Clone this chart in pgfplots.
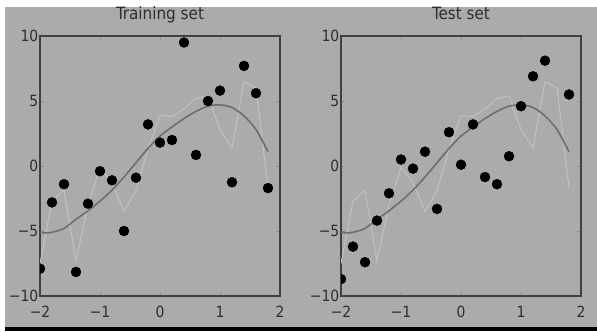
\documentclass[border=0pt]{standalone}
\usepackage{fontspec}
\setmainfont{DejaVu Sans Condensed}
\usepackage{pgfplots}
\pgfplotsset{compat=1.18}
\definecolor{bg}{HTML}{ABABAB}
\definecolor{frame}{HTML}{404040}
\definecolor{tickc}{HTML}{8C8C8C}
\definecolor{txt}{HTML}{2E2E2E}
\definecolor{fitc}{HTML}{6E6E6E}
\definecolor{overc}{HTML}{C2C2C2}
\pgfplotsset{myax/.style={
  scale only axis, width=240bp, height=260bp,
  xmin=-2, xmax=2, ymin=-10, ymax=10,
  clip marker paths=true,
  xtick={-2,-1,0,1,2}, xticklabels={−2,−1,0,1,2},
  ytick={-10,-5,0,5,10}, yticklabels={−10,−5,0,5,10},
  tick align=inside, major tick length=4bp,
  axis line style={draw=frame, line width=1.2bp},
  tick style={draw=tickc, line width=0.8bp},
  ticklabel style={font=\fontsize{15.5}{16}\selectfont, text=txt},
  xticklabel style={anchor=base, yshift=-21bp},
  yticklabel style={anchor=east, inner xsep=1.5bp},
  title style={font=\fontsize{17}{19}\selectfont, text=txt, at={(0.5,1)}, anchor=base, yshift=11bp},
}}
\pgfplotstableread{
x y
-2 -5.1
-1.9 -5.15
-1.8 -5.1
-1.6 -4.8
-1.4 -4.1
-1.2 -3.45
-1.0 -2.7
-0.8 -1.85
-0.6 -0.85
-0.4 0.25
-0.2 1.35
0 2.3
0.2 3.0
0.4 3.65
0.6 4.2
0.8 4.6
1.0 4.7
1.2 4.5
1.4 3.85
1.6 2.8
1.8 1.1
}\fit
\pgfplotstableread{
x y
-2 -7.5
-1.8 -2.7
-1.6 -1.85
-1.4 -7.3
-1.2 -3.0
-1.0 -0.1
-0.8 -1.3
-0.6 -3.5
-0.4 -1.9
-0.2 1.3
0 3.9
0.2 3.8
0.4 4.4
0.6 5.2
0.8 5.4
1.0 2.8
1.2 1.4
1.4 6.5
1.6 6.0
1.8 -1.7
}\over
\pgfplotstableread{
x y
-2 -7.9
-1.8 -2.8
-1.6 -1.4
-1.4 -8.15
-1.2 -2.9
-1.0 -0.4
-0.8 -1.1
-0.6 -5.0
-0.4 -0.9
-0.2 3.2
0 1.8
0.2 2.0
0.4 9.5
0.6 0.85
0.8 5.0
1.0 5.8
1.2 -1.25
1.4 7.7
1.6 5.6
1.8 -1.7
}\train
\pgfplotstableread{
x y
-2 -8.7
-1.8 -6.2
-1.6 -7.4
-1.4 -4.2
-1.2 -2.1
-1.0 0.5
-0.8 -0.2
-0.6 1.1
-0.4 -3.3
-0.2 2.6
0 0.1
0.2 3.2
0.4 -0.85
0.6 -1.4
0.8 0.75
1.0 4.6
1.2 6.9
1.4 8.1
1.8 5.5
}\test
\begin{document}
\begin{tikzpicture}[x=1bp,y=1bp]
\fill[white] (0,0) rectangle (597,331);
\fill[bg] (5,0) rectangle (597,324);
\fill[black] (5,0) rectangle (597,4);
\begin{axis}[myax, at={(40bp,35bp)}, anchor=south west, title={Training set}]
\addplot[overc, line width=1bp, sharp plot] table[x=x,y=y] {\over};
\addplot[fitc, line width=1.6bp, smooth] table[x=x,y=y] {\fit};
\addplot[only marks, mark=*, mark size=5bp, mark options={fill=black, draw=black}] table[x=x,y=y] {\train};
\end{axis}
\begin{axis}[myax, at={(341bp,35bp)}, anchor=south west, title={Test set}]
\addplot[overc, line width=1bp, sharp plot] table[x=x,y=y] {\over};
\addplot[fitc, line width=1.6bp, smooth] table[x=x,y=y] {\fit};
\addplot[only marks, mark=*, mark size=5bp, mark options={fill=black, draw=black}] table[x=x,y=y] {\test};
\end{axis}
\end{tikzpicture}
\end{document}
